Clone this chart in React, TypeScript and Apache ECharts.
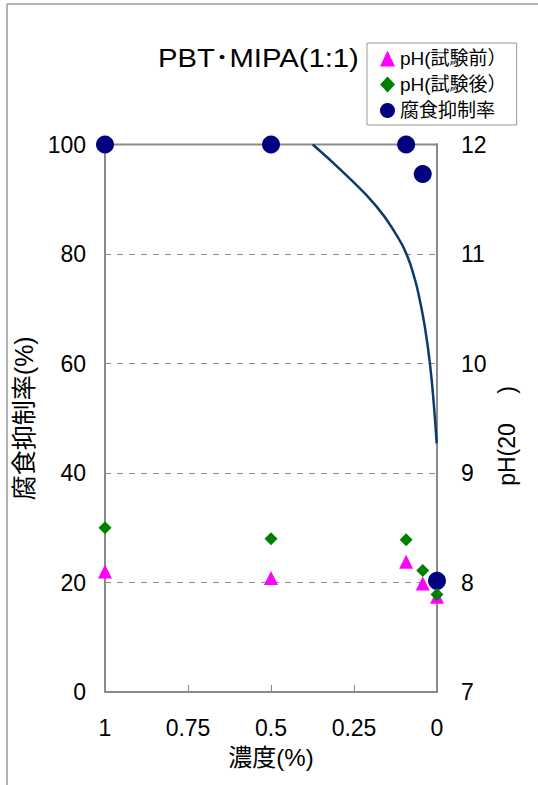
import React, { useEffect, useRef } from "react";
import * as echarts from "echarts";

const FONT = "'Liberation Sans', Arial, 'Noto Sans CJK JP', sans-serif";

const titleText = "PBT･MIPA(1:1)";
const xName = "濃度(%)";
const leftName = "腐食抑制率(%)";
const rightName = "pH(20\u3000 )";

const seriesNames = ["pH(試験前）", "pH(試験後）", "腐食抑制率"];

// concentration (%)
const concX = [1, 0.5, 0.093, 0.043, 0];
// pH before test
const phBefore = [8.1, 8.04, 8.19, 7.99, 7.87];
// pH after test
const phAfter = [8.5, 8.4, 8.39, 8.11, 7.89];
// corrosion inhibition rate (%)
const inhibition = [100, 100, 100, 94.6, 20.3];

// trend curve
const trendX = [0.3744, 0.2822, 0.1837, 0.1214, 0.0913, 0.0663, 0.0533, 0.0361, 0.0211, 0.009, 0.0009];
const trendY = [100, 94.9, 88.8, 83.4, 79.9, 75.3, 72.0, 66.5, 59.9, 52.1, 45.4];

const xTicks = { min: 0, max: 1, interval: 0.25 };
const leftTicks = { min: 0, max: 100, interval: 20 };
const rightTicks = { min: 7, max: 12, interval: 1 };

export default function App() {
  const ref = useRef<HTMLDivElement>(null);
  useEffect(() => {
    if (!ref.current) return;
    const chart = echarts.init(ref.current, undefined, { renderer: "svg" });
    const zip = (a: number[], b: number[]) => a.map((v, i) => [v, b[i]]);
    const axisGray = "#8a8a8a";
    chart.setOption({
      animation: false,
      backgroundColor: "#ffffff",
      grid: {
        left: 105,
        right: 101,
        top: 144.5,
        bottom: 93,
        show: true,
        borderColor: axisGray,
        borderWidth: 2,
        backgroundColor: "transparent",
      },
      legend: {
        data: seriesNames,
        orient: "vertical",
        left: 367,
        top: 43,
        padding: [6, 10, 5, 13],
        itemGap: 7,
        itemWidth: 15,
        itemHeight: 16,
        borderColor: "#999999",
        borderWidth: 1,
        backgroundColor: "#ffffff",
        textStyle: { fontFamily: FONT, fontSize: 19, color: "#000" },
      },
      xAxis: {
        type: "value",
        inverse: true,
        min: xTicks.min,
        max: xTicks.max,
        interval: xTicks.interval,
        name: xName,
        nameLocation: "middle",
        nameGap: 53,
        nameTextStyle: { fontFamily: FONT, fontSize: 24, color: "#000" },
        axisLine: { show: true, lineStyle: { color: axisGray, width: 2 } },
        axisTick: { show: true, inside: true, length: 7, lineStyle: { color: axisGray, width: 1 } },
        axisLabel: { fontFamily: FONT, fontSize: 23, color: "#000", margin: 24 },
        splitLine: { show: false },
      },
      yAxis: [
        {
          type: "value",
          min: leftTicks.min,
          max: leftTicks.max,
          interval: leftTicks.interval,
          name: leftName,
          nameLocation: "middle",
          nameGap: 64,
          nameRotate: 90,
          nameTextStyle: { fontFamily: FONT, fontSize: 25, color: "#000" },
          axisLine: { show: true, lineStyle: { color: axisGray, width: 2 } },
          axisTick: { show: false },
          axisLabel: { fontFamily: FONT, fontSize: 23, color: "#000", margin: 19 },
          splitLine: { show: true, lineStyle: { color: "#8a8a8a", width: 1, type: [6, 6] } },
        },
        {
          type: "value",
          position: "right",
          min: rightTicks.min,
          max: rightTicks.max,
          interval: rightTicks.interval,
          axisLine: { show: true, lineStyle: { color: axisGray, width: 2 } },
          axisTick: { show: false },
          axisLabel: { fontFamily: FONT, fontSize: 23, color: "#000", margin: 24 },
          splitLine: { show: false },
        },
      ],
      graphic: [
        { type: "line", shape: { x1: 7, y1: 4, x2: 538, y2: 4 }, style: { stroke: "#9a9a9a", lineWidth: 1.5 } },
        { type: "line", shape: { x1: 7, y1: 4, x2: 7, y2: 785 }, style: { stroke: "#9a9a9a", lineWidth: 1.5 } },
        {
          type: "text",
          x: 158,
          y: 58,
          scaleX: 1.17,
          style: { text: titleText, fontFamily: FONT, fontSize: 25, fill: "#000", verticalAlign: "middle", align: "left" },
        },
        {
          type: "text",
          x: 507,
          y: 436,
          rotation: Math.PI / 2,
          style: { text: rightName, fontFamily: FONT, fontSize: 23, fill: "#000", verticalAlign: "middle", align: "center" },
        },
      ],
      series: [
        {
          type: "line",
          yAxisIndex: 0,
          data: zip(trendX, trendY),
          smooth: 0.5,
          showSymbol: false,
          symbol: "none",
          lineStyle: { color: "#0a3b6e", width: 2.5 },
          z: 2,
        },
        {
          name: seriesNames[2],
          type: "scatter",
          yAxisIndex: 0,
          symbol: "circle",
          symbolSize: 18,
          itemStyle: { color: "#000080", opacity: 1 },
          data: zip(concX, inhibition),
          z: 3,
        },
        {
          name: seriesNames[0],
          type: "scatter",
          yAxisIndex: 1,
          symbol: "triangle",
          symbolSize: 14,
          itemStyle: { color: "#ff00ff", opacity: 1 },
          data: zip(concX, phBefore),
          z: 4,
        },
        {
          name: seriesNames[1],
          type: "scatter",
          yAxisIndex: 1,
          symbol: "diamond",
          symbolSize: 13,
          itemStyle: { color: "#008000", opacity: 1 },
          data: zip(concX, phAfter),
          z: 5,
        },
      ],
    });
    return () => chart.dispose();
  }, []);
  return (
    <div
      ref={ref}
      style={{ position: "absolute", left: 0, top: 0, width: 538, height: 785 }}
    />
  );
}
